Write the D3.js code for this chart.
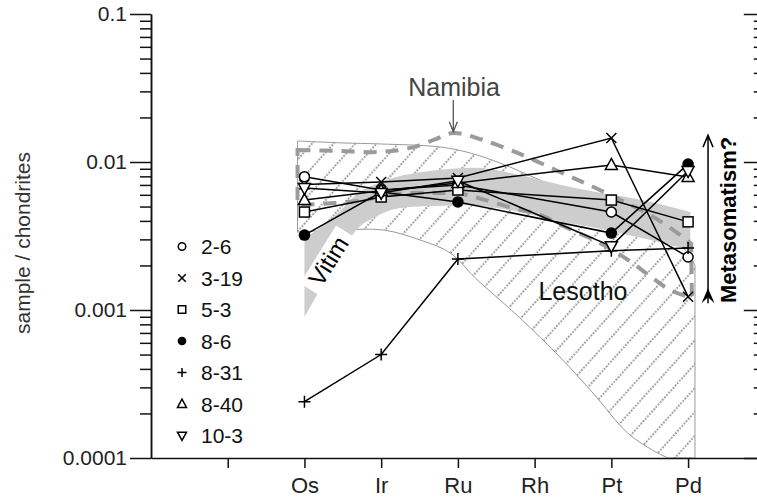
<!DOCTYPE html>
<html><head><meta charset="utf-8">
<script src="https://cdn.jsdelivr.net/npm/d3@7"></script>
<style>body{margin:0;background:#fff} svg{display:block;font-family:"Liberation Sans",Arial,sans-serif}</style>
</head><body><svg id="c" width="757" height="500"></svg>
<script>
// ---------- data ----------
const categories = ["Os","Ir","Ru","Rh","Pt","Pd"];
const xTickIndex = [-1,0,1,2,3,4,5,6];
const yTickValues = [0.0001,0.001,0.01,0.1];
const yTickLabels = ["0.0001","0.001","0.01","0.1"];
const sampleNames = ["2-6","3-19","5-3","8-6","8-31","8-40","10-3"];
const sampleMarkers = ["circle","times","square","dot","plus","triUp","triDown"];
// values per category (Os, Ir, Ru, Rh, Pt, Pd); Rh not measured
const s2_6  = [0.00796,0.00647,0.00700,null,0.00459,0.00228];
const s3_19 = [0.00705,0.00733,0.00780,null,0.01452,0.00123];
const s5_3  = [0.00459,0.00580,0.00647,null,0.00553,0.00394];
const s8_6  = [0.00321,0.00627,0.00537,null,0.00331,0.00968];
const s8_31 = [0.00024,0.00050,0.00221,null,0.00251,0.00262];
const s8_40 = [0.00553,0.00640,0.00722,null,0.00955,0.00792];
const s10_3 = [0.00667,0.00618,0.00747,null,0.00270,0.00869];
const seriesValues = [s2_6,s3_19,s5_3,s8_6,s8_31,s8_40,s10_3];

// field envelopes: [category position, value]
const lesothoUpper = [[-0.09,0.01387],[0.5,0.01345],[0.99,0.01324],[1.77,0.01263],[2.16,0.0115],[2.55,0.00984],
  [3.07,0.00755],[3.59,0.0058],[4.11,0.00439],[4.64,0.00321],[4.98,0.00250],[5.09,0.00200]];
const lesothoLower = [[4.74,0.0001],[4.55,0.000112],[4.21,0.000148],[3.76,0.000275],[3.33,0.000481],[2.81,0.000883],
  [2.23,0.00164],[1.9,0.00243],[1.51,0.00297],[1.03,0.00347],[0.47,0.00347],[-0.09,0.00336]];
const vitimUpper = [[0,0.00306],[0.2,0.00358],[0.45,0.00459],[0.7,0.00618],[1.0,0.00733],[1.25,0.00804],[1.75,0.00883],
  [2.3,0.0091],[2.8,0.00817],[3.35,0.0070],[3.8,0.00627],[4.4,0.00553],[5.03,0.00459]];
const vitimLower = [[5.03,0.00254],[4.4,0.00306],[3.8,0.00358],[3.35,0.00394],[2.8,0.00459],[2.3,0.00505],[1.75,0.00505],
  [1.25,0.00489],[1.0,0.00446],[0.7,0.00358],[0.45,0.00224],[0.2,0.00136],[0,0.000897]];
const namibiaUpper = [[-0.09,0.01205],[0.47,0.01186],[0.99,0.01169],[1.38,0.01245],[1.71,0.01429],[1.94,0.0157],
  [2.29,0.01429],[2.81,0.01133],[3.33,0.00856],[3.85,0.00647],[4.5,0.00439],[4.9,0.00321],[5.04,0.00280]];
const namibiaLower = [[5.05,0.00121],[4.77,0.00136],[4.5,0.0017],[4.24,0.00214],[3.85,0.00284],[3.4,0.00364],[3.07,0.00439],
  [2.71,0.00489],[2.36,0.00553],[2.06,0.00608],[1.71,0.00618],[1.38,0.00618],[0.99,0.00589],[0.79,0.00553],
  [0.4,0.00528],[-0.09,0.00512]];

// annotation anchors [category position, value]
const namibiaLabel = [1.95, 0.0279];
const namibiaArrow = [[1.94,0.0262],[1.94,0.0160]];
const lesothoLabel = [3.63, 0.00117];
const vitimLabel = [0.31, 0.00215];
const metaArrow = [[5.26,0.00111],[5.26,0.0152]];
const metaLabel = [5.63, 0.00406];

// ---------- scales ----------
const svg = d3.select("#c");
const x = d3.scaleLinear().domain([-2,6]).range([151,764.8]);
const y = d3.scaleLog().domain([0.0001,0.1]).range([458,14]);
const P = d => [x(d[0]), y(d[1])];

// hatch pattern
const defs = svg.append("defs");
const pat = defs.append("pattern").attr("id","hatch").attr("patternUnits","userSpaceOnUse")
  .attr("width",16).attr("height",16).attr("patternTransform","rotate(42)");
pat.append("line").attr("x1",8).attr("x2",8).attr("y1",0).attr("y2",16)
  .attr("stroke","#6e6e6e").attr("stroke-width",1.5).attr("stroke-dasharray","1.6,1.6");

const cr = d3.line().x(d=>x(d[0])).y(d=>y(d[1])).curve(d3.curveCatmullRom.alpha(0.5));
const cont = pts => cr(pts).replace(/^M/,"L");
const lin = pts => pts.map(d=>`L${x(d[0])},${y(d[1])}`).join("");

// Lesotho
const lesPath = cr(lesothoUpper) + lin([[5.09,0.0001]]) + cont(lesothoLower) + "Z";
svg.append("path").attr("d", lesPath).attr("fill","url(#hatch)")
  .attr("stroke","#9a9a9a").attr("stroke-width",1);
// Vitim
svg.append("path").attr("d", cr(vitimUpper) + cont(vitimLower) + "Z").attr("fill","#cdcdcd").attr("stroke","none");
// Namibia
svg.append("path").attr("d", cr(namibiaUpper) + cont(namibiaLower) + "Z").attr("fill","none")
  .attr("stroke","#9b9b9b").attr("stroke-width",4).attr("stroke-dasharray","13,9");

// Vitim label with white background
const vp = P(vitimLabel);
const vg = svg.append("g").attr("transform",`translate(${vp[0]},${vp[1]}) rotate(-58)`);
vg.append("rect").attr("x",-34).attr("y",-12).attr("width",68).attr("height",30).attr("fill","#fff");
vg.append("text").attr("text-anchor","middle").attr("dy","0.36em").attr("font-size",24).attr("fill","#000").text("Vitim");

// ---------- axes ----------
const minorVals = [];
[0.0001,0.001,0.01].forEach(b=>{for(let k=2;k<=9;k++) minorVals.push(b*k);});
const axL = svg.append("g").attr("transform","translate(151,0)")
  .call(d3.axisLeft(y).tickValues(yTickValues).tickSize(21).tickSizeOuter(0).tickPadding(3)
    .tickFormat((d,i)=>yTickLabels[i]));
svg.append("g").attr("transform","translate(151,0)")
  .call(d3.axisLeft(y).tickValues(minorVals).tickSize(11).tickSizeOuter(0).tickFormat(""));
svg.append("g").attr("transform",`translate(${x(6)},0)`)
  .call(d3.axisLeft(y).tickValues(yTickValues).tickSize(21).tickSizeOuter(0).tickFormat(""));
svg.append("g").attr("transform",`translate(${x(6)},0)`)
  .call(d3.axisLeft(y).tickValues(minorVals).tickSize(11).tickSizeOuter(0).tickFormat(""));
const axB = svg.append("g").attr("transform","translate(0,458)")
  .call(d3.axisBottom(x).tickValues(xTickIndex).tickSize(10).tickSizeOuter(0).tickPadding(9)
    .tickFormat(i => (i>=0 && i<categories.length) ? categories[i] : ""));
svg.selectAll(".domain, .tick line").attr("stroke","#111").attr("stroke-width",1.5);
axL.selectAll("text").attr("font-size",21).attr("fill","#222").attr("font-family","Liberation Sans, Arial, sans-serif");
axB.selectAll("text").attr("font-size",22).attr("fill","#222").attr("font-family","Liberation Sans, Arial, sans-serif");

svg.append("text").attr("transform","translate(30,243) rotate(-90)").attr("text-anchor","middle")
  .attr("font-size",21).attr("fill","#333").text("sample / chondrites");

// ---------- series ----------
function marker(g, type, s){
  const sw = 1.5;
  if(type==="circle") g.append("circle").attr("r",5*s).attr("fill","#fff").attr("stroke","#000").attr("stroke-width",sw);
  else if(type==="dot") g.append("circle").attr("r",5.8*s).attr("fill","#000");
  else if(type==="square") g.append("rect").attr("x",-5*s).attr("y",-5*s).attr("width",10*s).attr("height",10*s)
      .attr("fill","#fff").attr("stroke","#000").attr("stroke-width",sw);
  else if(type==="times") g.append("path").attr("d",`M${-5*s},${-5*s}L${5*s},${5*s}M${-5*s},${5*s}L${5*s},${-5*s}`)
      .attr("stroke","#000").attr("stroke-width",sw);
  else if(type==="plus") g.append("path").attr("d",`M${-6*s},0L${6*s},0M0,${-6*s}L0,${6*s}`)
      .attr("stroke","#000").attr("stroke-width",sw);
  else if(type==="triUp") g.append("path").attr("d",`M0,${-6.5*s}L${6*s},${4.5*s}L${-6*s},${4.5*s}Z`)
      .attr("fill","#fff").attr("stroke","#000").attr("stroke-width",sw);
  else if(type==="triDown") g.append("path").attr("d",`M0,${6.5*s}L${6*s},${-4.5*s}L${-6*s},${-4.5*s}Z`)
      .attr("fill","#fff").attr("stroke","#000").attr("stroke-width",sw);
}
const ln = d3.line().x(d=>x(d[0])).y(d=>y(d[1]));
const pts = seriesValues.map(vals => vals.map((v,i)=>[i,v]).filter(d=>d[1]!=null));
pts.forEach(p => svg.append("path").attr("d",ln(p)).attr("fill","none").attr("stroke","#000").attr("stroke-width",1.5));
pts.forEach((p,si) => p.forEach(d => {
  const g = svg.append("g").attr("transform",`translate(${x(d[0])},${y(d[1])})`);
  marker(g, sampleMarkers[si], 1);
}));

// ---------- legend ----------
sampleNames.forEach((n,i)=>{
  const ly = 246.5 + i*31.5;
  const g = svg.append("g").attr("transform",`translate(182,${ly})`);
  marker(g, sampleMarkers[i], 0.75);
  svg.append("text").attr("x",201).attr("y",ly).attr("dy","0.36em").attr("font-size",21).attr("fill","#111").text(n);
});

// ---------- annotations ----------
const nl = P(namibiaLabel);
svg.append("text").attr("x",nl[0]).attr("y",nl[1]).attr("text-anchor","middle").attr("font-size",25).attr("fill","#444").text("Namibia");
const na0 = P(namibiaArrow[0]), na1 = P(namibiaArrow[1]);
svg.append("path").attr("d",`M${na0[0]},${na0[1]}L${na1[0]},${na1[1]}M${na1[0]-4},${na1[1]-10}L${na1[0]},${na1[1]}L${na1[0]+4},${na1[1]-10}`)
  .attr("fill","none").attr("stroke","#555").attr("stroke-width",1.3);

const ll = P(lesothoLabel);
svg.append("text").attr("x",ll[0]).attr("y",ll[1]).attr("text-anchor","middle").attr("font-size",25).attr("fill","#111").text("Lesotho");

const m0 = P(metaArrow[0]), m1 = P(metaArrow[1]);
svg.append("path").attr("d",`M${m0[0]},${m0[1]}L${m1[0]},${m1[1]}M${m1[0]-5},${m1[1]+12}L${m1[0]},${m1[1]}L${m1[0]+5},${m1[1]+12}`)
  .attr("fill","none").attr("stroke","#000").attr("stroke-width",1.5);
svg.append("path").attr("d",`M${m0[0]},${m0[1]-15}L${m0[0]+6.5},${m0[1]}L${m0[0]},${m0[1]-6}L${m0[0]-6.5},${m0[1]}Z`).attr("fill","#000");
const ml = P(metaLabel);
svg.append("text").attr("transform",`translate(${ml[0]},${ml[1]}) rotate(-90)`).attr("text-anchor","middle")
  .attr("font-size",22).attr("font-weight","bold").attr("fill","#000").text("Metasomatism?");
</script></body></html>
